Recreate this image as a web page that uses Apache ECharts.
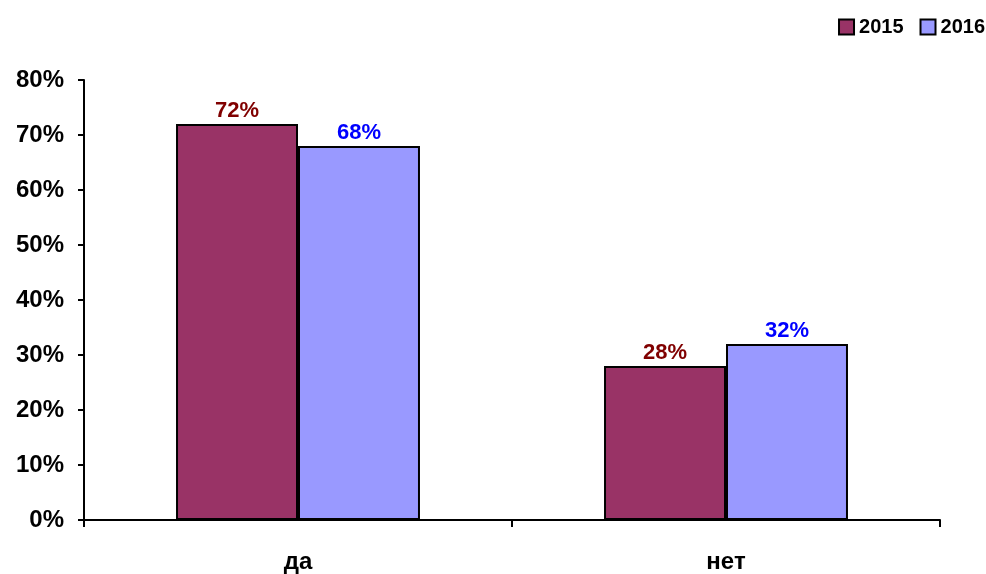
<!DOCTYPE html>
<html><head><meta charset="utf-8">
<script src="https://cdn.jsdelivr.net/npm/echarts@6/dist/echarts.min.js"></script>
<style>html,body{margin:0;padding:0;background:#fff}#c{width:986px;height:574px}</style>
</head><body><div id="c"></div>
<script>
var categories = ['да', 'нет'];
var years = ['2015', '2016'];
var values2015 = [0.72, 0.28];
var values2016 = [0.68, 0.32];
var yTicks = { min: 0, max: 0.8, interval: 0.1 };

var chart = echarts.init(document.getElementById('c'));
var font = '"Liberation Sans", Arial, sans-serif';
var pct = function (v) { return Math.round(v * 100) + '%'; };
function series(name, data, color, labelColor) {
  return {
    name: name, type: 'bar', data: data, barGap: '0%', barCategoryGap: '43%',
    itemStyle: { color: color, borderColor: '#000', borderWidth: 2 },
    label: { show: true, position: 'top', distance: 2, color: labelColor,
      fontFamily: font, fontWeight: 'bold', fontSize: 22,
      formatter: function (p) { return pct(p.value); } }
  };
}
chart.setOption({
  animation: false,
  legend: {
    data: years, right: 1, top: 17, padding: 0, itemWidth: 15, itemHeight: 15, itemGap: 16,
    icon: 'rect',
    textStyle: { fontFamily: font, fontWeight: 'bold', fontSize: 20, color: '#000' }
  },
  grid: { left: 84, right: 46, top: 80, bottom: 52 },
  xAxis: {
    type: 'category', data: categories,
    axisLine: { lineStyle: { color: '#000', width: 2 } },
    axisTick: { show: true, length: 7, lineStyle: { color: '#000', width: 2 } },
    axisLabel: { fontFamily: font, fontWeight: 'bold', fontSize: 24, color: '#000', margin: 30 }
  },
  yAxis: {
    type: 'value', min: yTicks.min, max: yTicks.max, interval: yTicks.interval,
    splitLine: { show: false },
    axisLine: { show: true, lineStyle: { color: '#000', width: 2 } },
    axisTick: { show: true, length: 6, lineStyle: { color: '#000', width: 2 } },
    axisLabel: { fontFamily: font, fontWeight: 'bold', fontSize: 24, color: '#000', margin: 20, formatter: pct }
  },
  series: [
    series(years[0], values2015, '#993366', '#800000'),
    series(years[1], values2016, '#9999FF', '#0000FF')
  ]
});
</script></body></html>
